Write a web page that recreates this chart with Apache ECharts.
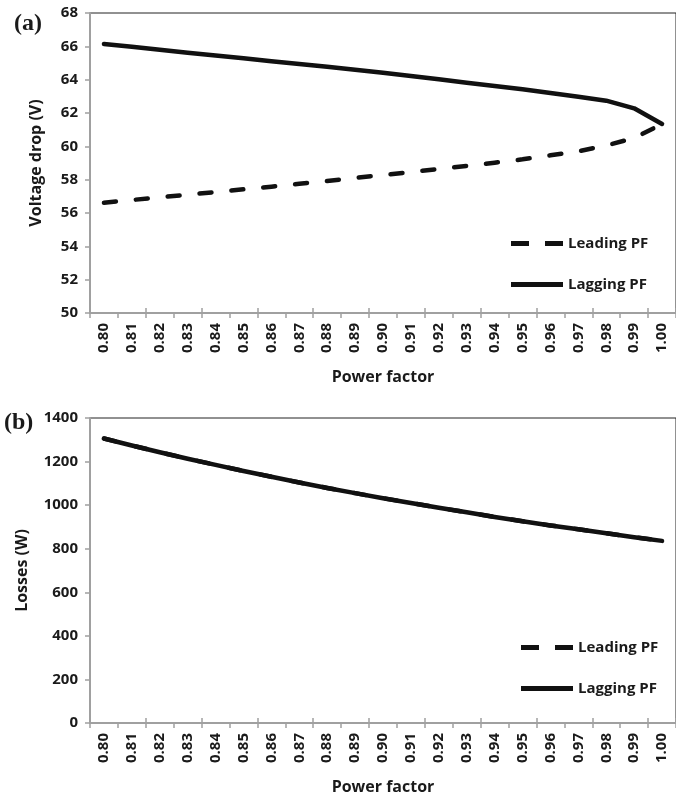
<!DOCTYPE html>
<html><head><meta charset="utf-8">
<script src="https://cdn.jsdelivr.net/npm/echarts@6/dist/echarts.min.js"></script>
<style>html,body{margin:0;padding:0;background:#fff}#c{width:676px;height:796px}</style>
</head><body><div id="c"></div>
<script>
const categories = ['0.80','0.81','0.82','0.83','0.84','0.85','0.86','0.87','0.88','0.89','0.90','0.91','0.92','0.93','0.94','0.95','0.96','0.97','0.98','0.99','1.00'];
const voltageLeading = [56.62,56.78,56.94,57.10,57.26,57.42,57.58,57.75,57.92,58.10,58.28,58.46,58.64,58.82,59.02,59.22,59.46,59.70,60.05,60.50,61.34];
const voltageLagging = [66.14,65.97,65.80,65.62,65.45,65.28,65.11,64.94,64.77,64.60,64.42,64.22,64.02,63.82,63.62,63.42,63.20,62.98,62.74,62.28,61.34];
const lossesLeading = [1306,1274,1243,1213,1185,1157,1130,1104,1079,1055,1032,1010,988,967,946,926,907,889,871,853,836];
const lossesLagging = [1306,1274,1243,1213,1185,1157,1130,1104,1079,1055,1032,1010,988,967,946,926,907,889,871,853,836];
const seriesNames = ['Leading PF','Lagging PF'];
const panelLabels = ['(a)','(b)'];
const yTitles = ['Voltage drop (V)','Losses (W)'];
const xTitle = 'Power factor';

const FONT = 'Open Sans';
const TXT = '#1a1a1a';
const AX = '#a0a0a0';

const chart = echarts.init(document.getElementById('c'), null, {renderer:'canvas'});

function xAxes(gi){
  return [{
    type:'category', gridIndex:gi, data:categories, boundaryGap:true, position:'bottom',
    axisLine:{show:true, lineStyle:{color:AX, width:2}},
    axisTick:{show:true, inside:false, length:5, lineStyle:{color:AX, width:1.5}},
    axisLabel:{rotate:90, margin:10, fontFamily:FONT, fontWeight:'bold', fontSize:15, color:TXT, interval:0},
    splitLine:{show:false},
    name:xTitle, nameLocation:'middle', nameGap:56, nameMoveOverlap:false,
    nameTextStyle:{fontFamily:FONT, fontWeight:'bold', fontSize:16, color:TXT}
  },{
    type:'category', gridIndex:gi, data:categories, boundaryGap:true, position:'bottom',
    axisLine:{show:false},
    axisTick:{show:true, inside:true, length:5, lineStyle:{color:AX, width:1.5}},
    axisLabel:{show:false}, splitLine:{show:false}
  }];
}
function yAxis(gi, min, max, interval, name, gap){
  return {
    type:'value', gridIndex:gi, min:min, max:max, interval:interval,
    axisLine:{show:true, lineStyle:{color:AX, width:2}},
    axisTick:{show:true, inside:false, length:5, lineStyle:{color:AX, width:1.5}},
    axisLabel:{margin:12, fontFamily:FONT, fontWeight:'bold', fontSize:15, color:TXT, formatter:v => String(v)},
    splitLine:{show:false},
    name:name, nameLocation:'middle', nameGap:gap, nameMoveOverlap:false,
    nameTextStyle:{fontFamily:FONT, fontWeight:'bold', fontSize:16, color:TXT}
  };
}
function line(name, data, xi, yi, dashed){
  return {
    type:'line', name:name, data:data, xAxisIndex:xi, yAxisIndex:yi,
    symbol:'none', showSymbol:false, smooth:false, animation:false,
    lineStyle:{color:'#111', width:4.5, type: dashed ? [12,20] : 'solid', cap:'round', join:'round'},
    itemStyle:{color:'#111'}
  };
}
const dashIcon = 'path://M0,0H18V5H0Z M34,0H52V5H34Z';
const solidIcon = 'path://M0,0H52V5H0Z';
const legendBase = {
  orient:'vertical', itemWidth:52, itemHeight:5, itemGap:26,
  textStyle:{fontFamily:FONT, fontWeight:'bold', fontSize:15, color:TXT, padding:[0,0,0,0]},
  itemStyle:{color:'#111'},
  data:[{name:seriesNames[0], icon:dashIcon},{name:seriesNames[1], icon:solidIcon}],
  selectedMode:false
};

const option = {
  animation:false,
  backgroundColor:'#fff',
  grid:[
    {left:90, top:13, width:591, height:300, show:true, borderColor:'#222', borderWidth:1, backgroundColor:'transparent'},
    {left:90, top:418, width:591, height:305, show:true, borderColor:'#222', borderWidth:1, backgroundColor:'transparent'}
  ],
  xAxis:[...xAxes(0), ...xAxes(1)],
  yAxis:[yAxis(0,50,68,2,yTitles[0],46), yAxis(1,0,1400,200,yTitles[1],60)],
  legend:[
    Object.assign({left:506, top:231}, legendBase),
    Object.assign({left:516, top:635}, legendBase)
  ],
  graphic:[
    {type:'text', left:14, top:12, style:{text:panelLabels[0], font:'bold 24px "Liberation Serif"', fill:TXT}},
    {type:'text', left:4, top:411, style:{text:panelLabels[1], font:'bold 24px "Liberation Serif"', fill:TXT}}
  ],
  series:[
    line(seriesNames[0], voltageLeading, 0, 0, true),
    line(seriesNames[1], voltageLagging, 0, 0, false),
    line(seriesNames[0], lossesLeading, 2, 1, true),
    line(seriesNames[1], lossesLagging, 2, 1, false)
  ]
};
chart.setOption(option);
</script></body></html>
